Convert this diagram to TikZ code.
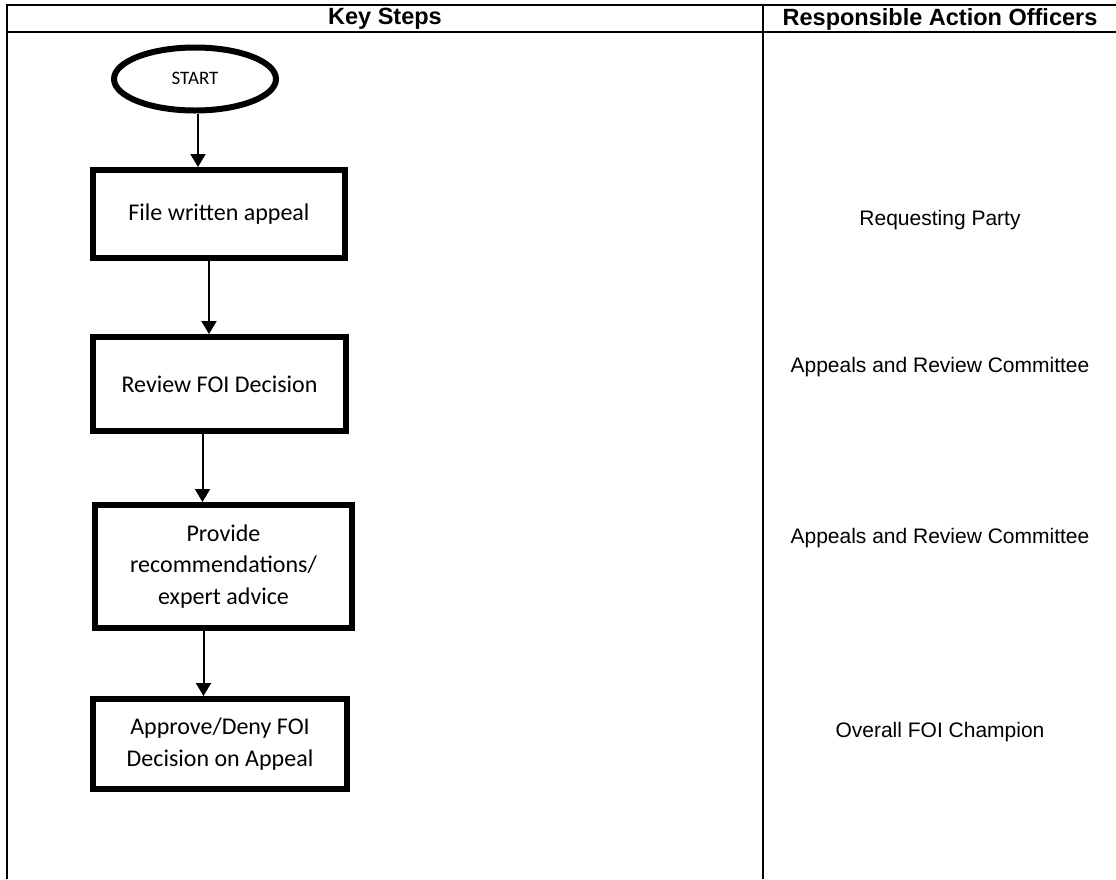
\documentclass[tikz,border=0pt]{standalone}
\usepackage{fontspec}
\setmainfont{Carlito}
\newfontfamily\arialf{Liberation Sans}
\usetikzlibrary{arrows.meta,shapes.geometric}
\begin{document}
\begin{tikzpicture}[x=1pt,y=-1pt,
  gridline/.style={line width=2pt},
  headtext/.style={font=\arialf\bfseries\fontsize{23.5}{25}\selectfont},
  roletext/.style={font=\arialf\fontsize{21}{24}\selectfont},
  stepbox/.style={draw,line width=6pt,inner sep=0pt,align=center,
    font=\fontsize{24}{31.5}\selectfont},
  startshape/.style={draw,ellipse,line width=6pt,inner sep=0pt,
    minimum width=162pt,minimum height=63pt,font=\fontsize{19}{22}\selectfont},
  arr/.style={line width=2pt,-{Triangle[length=13pt,width=15pt]}}]
\useasboundingbox (0,0) rectangle (1116,879);
% table
\draw[gridline] (6,5) -- (1116,5);
\draw[gridline] (6,32) -- (1116,32);
\draw[gridline] (7,4) -- (7,879);
\draw[gridline] (763,4) -- (763,879);
\node[headtext] (h1) at (385,19) {Key Steps};
\node[headtext] (h2) at (940,19) {Responsible Action Officers};
% flow
\node[startshape] (start) at (195,79) {\raisebox{-5pt}[0pt][0pt]{START}};
\node[stepbox,minimum width=252pt,minimum height=88pt] (b1) at (219,214) {File written appeal};
\node[stepbox,minimum width=253pt,minimum height=94pt] (b2) at (219.5,384) {Review FOI Decision};
\node[stepbox,minimum width=257pt,minimum height=123pt] (b3) at (223.5,566.5) {Provide\\recommendations/\\expert advice};
\node[stepbox,minimum width=254pt,minimum height=90pt] (b4) at (220,744) {Approve/Deny FOI\\Decision on Appeal};
\draw[arr] ([xshift=3pt]start.south) -- ([xshift=3pt]start.south |- b1.north);
\draw[arr] ([xshift=-10pt]b1.south) -- ([xshift=-10pt]b1.south |- b2.north);
\draw[arr] ([xshift=-17pt]b2.south) -- ([xshift=-17pt]b2.south |- b3.north);
\draw[arr] ([xshift=-20pt]b3.south) -- ([xshift=-20pt]b3.south |- b4.north);
% roles
\node[roletext] (r1) at (940,220) {Requesting Party};
\node[roletext] (r2) at (940,367) {Appeals and Review Committee};
\node[roletext] (r3) at (940,538) {Appeals and Review Committee};
\node[roletext] (r4) at (940,732) {Overall FOI Champion};
\end{tikzpicture}
\end{document}
